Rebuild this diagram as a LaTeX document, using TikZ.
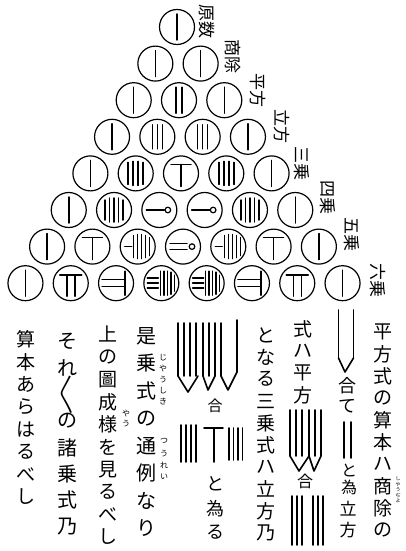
\documentclass[tikz,border=0pt]{standalone}
\usepackage{fontspec}
\newfontfamily\cjk{Noto Sans CJK JP}
\makeatletter
\newcommand\vcol[2]{\vbox{\offinterlineskip\@tfor\vc@c:=#2\do{\hbox to 1.2em{\hss\vbox to #1{\vss\hbox{\vc@c}\vss}\hss}}}}
\makeatother
\newcommand\sidew[1]{\rotatebox{-90}{#1}}
\tikzset{
  rod/.style={line width=1.5pt, line cap=round},
  trod/.style={line width=1.6pt, line cap=round, line join=round},
  numc/.style={circle, draw, line width=1.2pt, minimum size=35pt, inner sep=0pt},
  rowlabel/.style={font=\cjk\fontsize{17}{17}\selectfont, inner sep=0pt},
  vtxt/.style={inner sep=0pt, anchor=north}
}
\expandafter\def\csname rod1\endcsname{\draw[rod] (0,-13)--(0,13);}
\expandafter\def\csname rod2\endcsname{\draw[rod] (-3,-13)--(-3,13) (3,-13)--(3,13);}
\expandafter\def\csname rod3\endcsname{\draw[rod] (-5,-12)--(-5,12) (0,-12)--(0,12) (5,-12)--(5,12);}
\expandafter\def\csname rod4\endcsname{\draw[rod] (-7.5,-11)--(-7.5,11) (-2.5,-12)--(-2.5,12) (2.5,-12)--(2.5,12) (7.5,-11)--(7.5,11);}
\expandafter\def\csname rod5\endcsname{\draw[rod] (-9,-10)--(-9,10) (-4.5,-12)--(-4.5,12) (0,-12)--(0,12) (4.5,-12)--(4.5,12) (9,-10)--(9,10);}
\expandafter\def\csname rod6\endcsname{\draw[rod] (-10,-9)--(10,-9) (0,-9)--(0,13);}
\expandafter\def\csname rod7\endcsname{\draw[rod] (-11,-8)--(11,-8) (-4,-8)--(-4,13) (4,-8)--(4,13);}
\expandafter\def\csname rod10\endcsname{\draw[rod] (-13,0)--(5,0); \draw[line width=1.2pt] (8.5,0) circle (2.8);}
\expandafter\def\csname rod15\endcsname{\draw[rod] (-13,0)--(-6,0) (-4,-11)--(-4,11) (0,-12)--(0,12) (4,-12)--(4,12) (8,-11)--(8,11) (12,-9)--(12,9);}
\expandafter\def\csname rod20\endcsname{\draw[rod] (-13,-3)--(4,-3) (-13,3)--(4,3); \draw[line width=1.2pt] (9,0) circle (2.8);}
\expandafter\def\csname rod21\endcsname{\draw[rod] (-14,-3.5)--(9,-3.5) (-14,3.5)--(9,3.5) (9,-12)--(9,12);}
\expandafter\def\csname rod35\endcsname{\draw[rod] (-14,-5)--(-3,-5) (-14,0)--(-3,0) (-14,5)--(-3,5) (-1,-12)--(-1,12) (2.5,-12)--(2.5,12) (6,-12)--(6,12) (9.5,-11)--(9.5,11) (13,-8)--(13,8);}
\begin{document}
\begin{tikzpicture}[x=1pt,y=-1pt]
\useasboundingbox (0,0) rectangle (406,551);
\fill[white] (0,0) rectangle (406,551);
% triangle of circles
\foreach \k/\vals in {1/{1},2/{1,1},3/{1,2,1},4/{1,3,3,1},5/{1,4,6,4,1},6/{1,5,10,10,5,1},7/{1,6,15,20,15,6,1},8/{1,7,21,35,35,21,7,1}}{
  \foreach \v [count=\j] in \vals {
    \pgfmathsetmacro\cx{177+(\k-1)+(\j-(\k+1)/2)*45.3}
    \pgfmathsetmacro\cy{27+(\k-1)*36.6}
    \node[numc] (c\k-\j) at (\cx,\cy) {};
    \begin{scope}[shift={(c\k-\j.center)}]
      \csname rod\v\endcsname
    \end{scope}
  }
}
% row labels (set sideways)
\node[rowlabel] (l1) at (207,22) {\sidew{原数}};
\node[rowlabel] (l2) at (233,57) {\sidew{商除}};
\node[rowlabel] (l3) at (258,91) {\sidew{平方}};
\node[rowlabel] (l4) at (282,126) {\sidew{立方}};
\node[rowlabel] (l5) at (302,163) {\sidew{三乗}};
\node[rowlabel] (l6) at (328,197) {\sidew{四乗}};
\node[rowlabel] (l7) at (352,234) {\sidew{五乗}};
\node[rowlabel] (l8) at (378,280) {\sidew{六乗}};
% column 1
\node[vtxt, font=\cjk\fontsize{19}{19}\selectfont] (t1) at (383,321) {\vcol{22pt}{平方式の算本ハ商除の}};
\node[vtxt, font=\cjk\fontsize{5}{5}\selectfont] (r1) at (398,476) {\vcol{5.5pt}{しやうぢよ}};
% column 2
\draw[trod] (338.5,310)--(338.5,358) (353.5,310)--(353.5,358);
\draw[trod] (338.5,358)--(345,372)--(353.5,358);
\node[vtxt, font=\cjk\fontsize{18}{18}\selectfont] (t2a) at (347,375) {\vcol{21pt}{合て}};
\draw[trod] (344,422)--(344,458) (351,422)--(351,458);
\node[vtxt, font=\cjk\fontsize{16}{16}\selectfont] (t2b) at (349,462) {\vcol{16.5pt}{と為}};
\node[vtxt, font=\cjk\fontsize{17}{17}\selectfont] (t2c) at (348,498) {\vcol{21.5pt}{立方}};
% column 3
\node[vtxt, font=\cjk\fontsize{19}{19}\selectfont] (t3a) at (303,318) {\vcol{22pt}{式ハ平方}};
\draw[trod] (290,410)--(290,456) (296,410)--(296,456) (302,410)--(302,456) (309,410)--(309,456) (315,410)--(315,456) (321,410)--(321,456);
\draw[trod] (290,456)--(299,471)--(309,456) (309,456)--(314,471)--(321,456);
\node[vtxt, font=\cjk\fontsize{16}{16}\selectfont] (t3b) at (305,472) {\vcol{18pt}{合}};
\draw[trod] (292,496)--(292,545) (297,496)--(297,545) (302,496)--(302,545) (313,496)--(313,545) (318,496)--(318,545) (323,496)--(323,545);
% column 4
\node[vtxt, font=\cjk\fontsize{19}{19}\selectfont] (t4) at (266,324) {\vcol{22pt}{となる三乗式ハ立方乃}};
% column 5
\draw[trod] (178,323)--(178,376) (184,323)--(184,376) (190,323)--(190,376) (196,323)--(196,376);
\draw[trod] (203,323)--(203,376) (209,323)--(209,376) (215,323)--(215,376) (221,323)--(221,376) (237,320)--(237,372);
\draw[trod] (178,376)--(188,392)--(198,376) (203,376)--(208,390)--(215,376) (221,376)--(228,390)--(237,372);
\node[vtxt, font=\cjk\fontsize{15}{15}\selectfont] (t5a) at (215,398) {\vcol{16pt}{合}};
\draw[trod] (181,425)--(181,462) (186,425)--(186,462) (191,425)--(191,462) (196,425)--(196,462);
\draw[trod] (204,428)--(223,428) (214,428)--(214,462);
\draw[trod] (229,428)--(229,460) (233.5,428)--(233.5,460) (238,428)--(238,460) (242.5,428)--(242.5,460);
\node[vtxt, font=\cjk\fontsize{18}{18}\selectfont] (t5b) at (215,472) {\vcol{24pt}{と為る}};
% column 6
\node[vtxt, font=\cjk\fontsize{20}{20}\selectfont] (t6) at (146,322) {\vcol{27.5pt}{是乗式の通例なり}};
\node[vtxt, font=\cjk\fontsize{8}{8}\selectfont] (r6a) at (163,352) {\vcol{11pt}{じやうしき}};
\node[vtxt, font=\cjk\fontsize{8}{8}\selectfont] (r6b) at (164,435) {\vcol{12pt}{つうれい}};
% column 7
\node[vtxt, font=\cjk\fontsize{19}{19}\selectfont] (t7) at (108,323) {\vcol{22.5pt}{上の圖成様を見るべし}};
\node[vtxt, font=\cjk\fontsize{8}{8}\selectfont] (r7) at (126,408) {\vcol{10pt}{やう}};
% column 8
\node[vtxt, font=\cjk\fontsize{20}{20}\selectfont] (t8) at (67,328) {\vcol{26.5pt}{それ〱の諸乗式乃}};
% column 9
\node[vtxt, font=\cjk\fontsize{19}{19}\selectfont] (t9) at (26,328) {\vcol{22.5pt}{算本あらはるべし}};
\end{tikzpicture}
\end{document}
